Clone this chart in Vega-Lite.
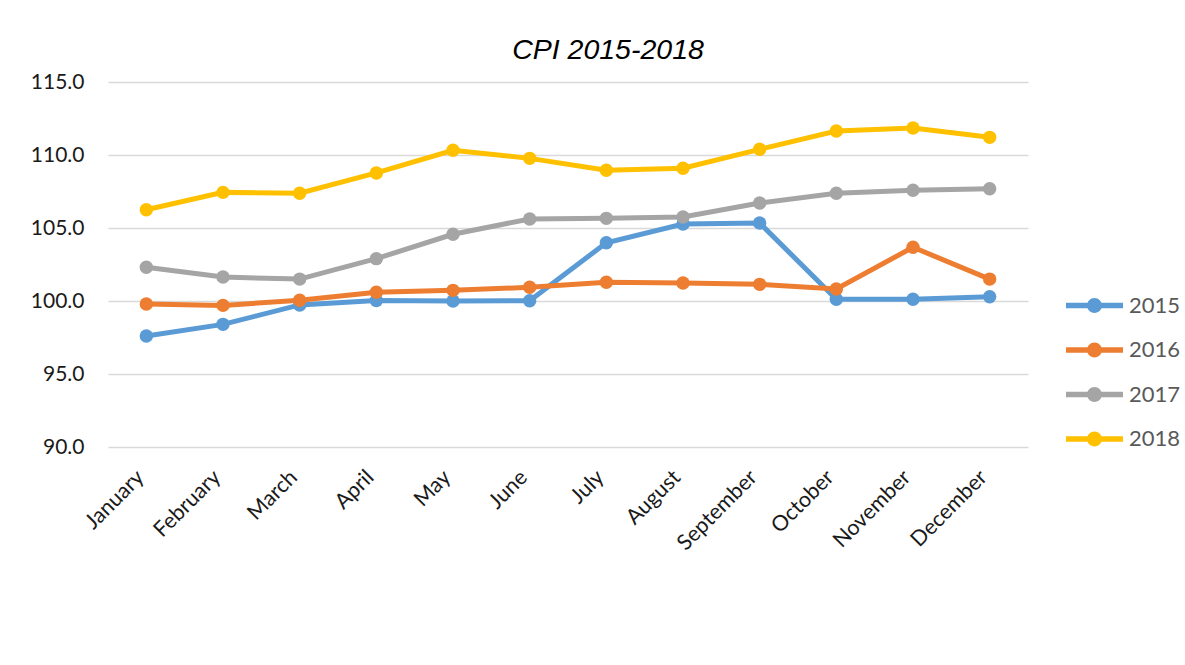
{
  "$schema": "https://vega.github.io/schema/vega-lite/v6.json",
  "autosize": "none",
  "width": 920,
  "height": 365,
  "padding": {"left": 108, "top": 82, "right": 157, "bottom": 218},
  "background": "white",
  "title": {
    "text": "CPI 2015-2018",
    "font": "Liberation Sans",
    "fontSize": 28.5,
    "fontStyle": "italic",
    "fontWeight": "normal",
    "color": "#000000",
    "anchor": "middle",
    "dx": 40,
    "offset": 7
  },
  "config": {
    "view": {"stroke": null},
    "font": "Lato"
  },
  "data": {
    "values": [
      {"month": "January", "year": "2015", "cpi": 97.6},
      {"month": "February", "year": "2015", "cpi": 98.4},
      {"month": "March", "year": "2015", "cpi": 99.73},
      {"month": "April", "year": "2015", "cpi": 100.03},
      {"month": "May", "year": "2015", "cpi": 100.0},
      {"month": "June", "year": "2015", "cpi": 100.02},
      {"month": "July", "year": "2015", "cpi": 103.99},
      {"month": "August", "year": "2015", "cpi": 105.27},
      {"month": "September", "year": "2015", "cpi": 105.34},
      {"month": "October", "year": "2015", "cpi": 100.12},
      {"month": "November", "year": "2015", "cpi": 100.12},
      {"month": "December", "year": "2015", "cpi": 100.29},
      {"month": "January", "year": "2016", "cpi": 99.79},
      {"month": "February", "year": "2016", "cpi": 99.7},
      {"month": "March", "year": "2016", "cpi": 100.05},
      {"month": "April", "year": "2016", "cpi": 100.6},
      {"month": "May", "year": "2016", "cpi": 100.73},
      {"month": "June", "year": "2016", "cpi": 100.94},
      {"month": "July", "year": "2016", "cpi": 101.28},
      {"month": "August", "year": "2016", "cpi": 101.23},
      {"month": "September", "year": "2016", "cpi": 101.14},
      {"month": "October", "year": "2016", "cpi": 100.82},
      {"month": "November", "year": "2016", "cpi": 103.68},
      {"month": "December", "year": "2016", "cpi": 101.5},
      {"month": "January", "year": "2017", "cpi": 102.31},
      {"month": "February", "year": "2017", "cpi": 101.64},
      {"month": "March", "year": "2017", "cpi": 101.5},
      {"month": "April", "year": "2017", "cpi": 102.9},
      {"month": "May", "year": "2017", "cpi": 104.57},
      {"month": "June", "year": "2017", "cpi": 105.62},
      {"month": "July", "year": "2017", "cpi": 105.66},
      {"month": "August", "year": "2017", "cpi": 105.75},
      {"month": "September", "year": "2017", "cpi": 106.71},
      {"month": "October", "year": "2017", "cpi": 107.38},
      {"month": "November", "year": "2017", "cpi": 107.58},
      {"month": "December", "year": "2017", "cpi": 107.69},
      {"month": "January", "year": "2018", "cpi": 106.25},
      {"month": "February", "year": "2018", "cpi": 107.44},
      {"month": "March", "year": "2018", "cpi": 107.38},
      {"month": "April", "year": "2018", "cpi": 108.77},
      {"month": "May", "year": "2018", "cpi": 110.32},
      {"month": "June", "year": "2018", "cpi": 109.77},
      {"month": "July", "year": "2018", "cpi": 108.95},
      {"month": "August", "year": "2018", "cpi": 109.09},
      {"month": "September", "year": "2018", "cpi": 110.39},
      {"month": "October", "year": "2018", "cpi": 111.64},
      {"month": "November", "year": "2018", "cpi": 111.85},
      {"month": "December", "year": "2018", "cpi": 111.21}
    ]
  },
  "encoding": {
    "x": {
      "field": "month",
      "type": "nominal",
      "sort": ["January","February","March","April","May","June","July","August","September","October","November","December"],
      "scale": {"type": "point", "padding": 0.5},
      "axis": {
        "title": null,
        "domain": false,
        "ticks": false,
        "grid": false,
        "labelAngle": -45,
        "labelAlign": "right",
        "labelBaseline": "middle",
        "labelPadding": 27,
        "labelOffset": -6,
        "labelFont": "Lato",
        "labelFontSize": 21.5,
        "labelColor": "#1a1a1a"
      }
    },
    "y": {
      "field": "cpi",
      "type": "quantitative",
      "scale": {"domain": [90, 115], "nice": false, "zero": false},
      "axis": {
        "title": null,
        "values": [90, 95, 100, 105, 110, 115],
        "format": ".1f",
        "domain": false,
        "ticks": false,
        "grid": true,
        "gridColor": "#d9d9d9",
        "gridWidth": 1.5,
        "labelPadding": 24,
        "labelFont": "Lato",
        "labelFontSize": 21,
        "labelColor": "#1a1a1a"
      }
    },
    "color": {
      "field": "year",
      "type": "nominal",
      "scale": {"domain": ["2015","2016","2017","2018"], "range": ["#5B9BD5","#ED7D31","#A5A5A5","#FFC000"]},
      "legend": {
        "title": null,
        "orient": "none",
        "legendX": 958,
        "legendY": 195,
        "symbolType": "M-1,-0.1 L1,-0.1 L1,0.1 L-1,0.1 Z M0.26,0 A0.26,0.26 0 1,1 -0.26,0 A0.26,0.26 0 1,1 0.26,0 Z",
        "symbolSize": 3249,
        "symbolStrokeWidth": 0,
        "labelFont": "Lato",
        "labelFontSize": 22,
        "labelColor": "#595959",
        "labelOffset": 6,
        "rowPadding": 4.5,
        "encode": {"symbols": {"update": {"fill": {"scale": "color", "field": "value"}, "opacity": {"value": 1}}}}
      }
    }
  },
  "layer": [
    {"mark": {"type": "line", "strokeWidth": 5}},
    {"mark": {"type": "point", "filled": true, "size": 180, "opacity": 1}}
  ]
}
